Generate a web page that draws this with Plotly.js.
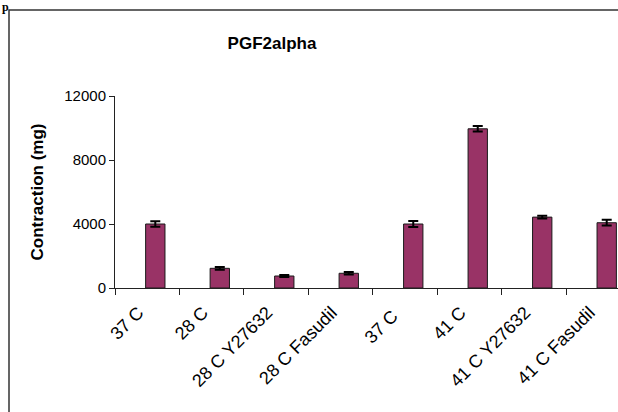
<!DOCTYPE html>
<html>
<head>
<meta charset="utf-8">
<script src="https://cdn.plot.ly/plotly-3.0.1.min.js"></script>
<style>html,body{margin:0;padding:0;background:#fff;}#chart{width:618px;height:412px;}</style>
</head>
<body>
<div id="chart"></div>
<script>
var categories = ["37 C", "28 C", "28 C Y27632", "28 C Fasudil", "37 C ", "41 C", "41 C Y27632", "41 C Fasudil"];
var contraction = [4000, 1230, 750, 920, 4000, 9950, 4430, 4080];
var errors = [170, 90, 60, 80, 180, 170, 90, 180];
var yTicks = [0, 4000, 8000, 12000];

var W = 618, H = 412, L = 115, R = 0, T = 96, B = 124;
var pw = W - L - R, ph = H - T - B;
function px2x(p) { return (p - L) / pw; }
function py2y(p) { return (H - B - p) / ph; }

var trace = {
  type: 'bar',
  x: categories,
  y: contraction,
  width: 0.3,
  offset: -0.025,
  marker: { color: '#993366', line: { color: '#1a1a1a', width: 1 } },
  error_y: { type: 'data', array: errors, visible: true, color: '#000', thickness: 2, width: 5 }
};

var layout = {
  width: W, height: H,
  margin: { l: L, r: R, t: T, b: B, pad: 0 },
  paper_bgcolor: '#fff', plot_bgcolor: '#fff',
  showlegend: false,
  font: { family: 'Liberation Sans, Arial, sans-serif', color: '#000' },
  title: { text: '<b>PGF2alpha</b>', x: 272 / W, xanchor: 'center', y: 1 - 43 / H, yanchor: 'middle',
           font: { size: 17, family: 'Liberation Sans, Arial, sans-serif', color: '#000' } },
  xaxis: {
    type: 'category',
    range: [-0.5, 7.3],
    showgrid: false, zeroline: false,
    showline: true, linecolor: '#222', linewidth: 1,
    ticks: 'outside', ticklen: 6, tickcolor: '#222', tickwidth: 1,
    tickson: 'boundaries',
    tickangle: -45,
    tickfont: { size: 18, color: '#000' },
    ticklabelstandoff: 6,
    ticklabelshift: -9
  },
  yaxis: {
    range: [0, 12000],
    tickvals: yTicks,
    ticktext: yTicks.map(String),
    showgrid: false, zeroline: false,
    showline: true, linecolor: '#222', linewidth: 1,
    ticks: 'outside', ticklen: 5, tickcolor: '#222', tickwidth: 1,
    tickfont: { size: 15, color: '#000' },
    title: { text: '<b>Contraction (mg)</b>', font: { size: 17, color: '#000' }, standoff: 16 }
  },
  shapes: [{
    type: 'rect', xref: 'paper', yref: 'paper',
    x0: px2x(9), x1: px2x(640), y0: py2y(430), y1: py2y(10),
    line: { color: '#333', width: 1.5 }, fillcolor: 'rgba(0,0,0,0)', layer: 'below'
  }],
  annotations: [{
    text: '<b>p</b>', xref: 'paper', yref: 'paper', x: px2x(1), y: py2y(-1),
    xanchor: 'left', yanchor: 'top', showarrow: false, borderpad: 0,
    font: { family: 'Liberation Serif, Times New Roman, serif', size: 12, color: '#000' }
  }]
};

Plotly.newPlot('chart', [trace], layout, { displayModeBar: false, staticPlot: true });
</script>
</body>
</html>
